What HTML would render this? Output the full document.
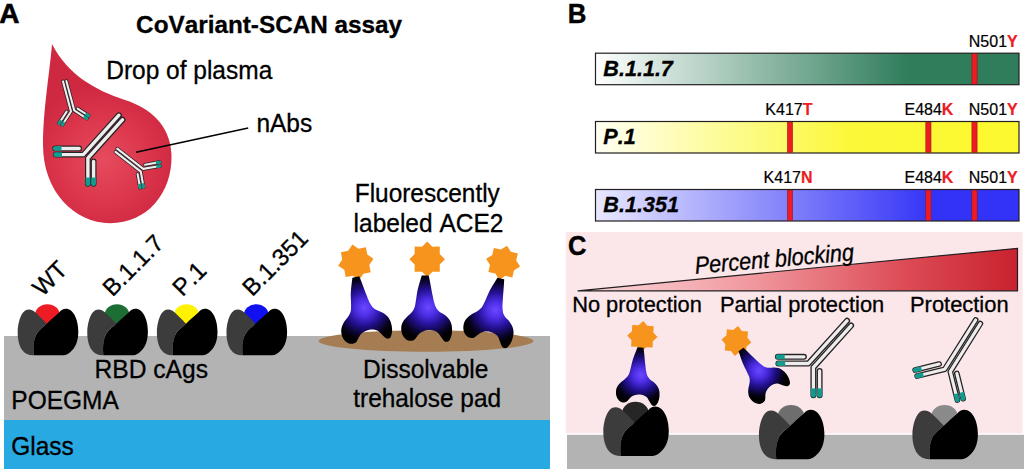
<!DOCTYPE html>
<html><head><meta charset="utf-8"><style>
html,body{margin:0;padding:0;background:#fff;width:1024px;height:469px;overflow:hidden}
svg{display:block}
text{font-family:"Liberation Sans", sans-serif;font-kerning:none;font-feature-settings:"kern" 0}
</style></head><body>
<svg width="1024" height="469" viewBox="0 0 1024 469">
<defs>
<radialGradient id="gDrop" gradientUnits="userSpaceOnUse" cx="103" cy="160" r="75">
<stop offset="0" stop-color="#e64b5e"/><stop offset="0.55" stop-color="#dc374d"/><stop offset="1" stop-color="#cf2841"/></radialGradient>
<radialGradient id="gAce" gradientUnits="userSpaceOnUse" cx="2" cy="32" r="33">
<stop offset="0" stop-color="#6a48ff"/><stop offset="0.25" stop-color="#4e2ee6"/><stop offset="0.55" stop-color="#22108f"/><stop offset="0.85" stop-color="#07031f"/><stop offset="1" stop-color="#000"/></radialGradient>
<linearGradient id="gGreen" x1="0" x2="1"><stop offset="0" stop-color="#ffffff"/><stop offset="0.74" stop-color="#2f7d5b"/><stop offset="1" stop-color="#2f7d5b"/></linearGradient>
<linearGradient id="gYellow" x1="0" x2="1"><stop offset="0" stop-color="#fffff4"/><stop offset="0.6" stop-color="#fbf83a"/><stop offset="1" stop-color="#fcf92e"/></linearGradient>
<linearGradient id="gBlue" x1="0" x2="1"><stop offset="0" stop-color="#e8e8ff"/><stop offset="0.8" stop-color="#3333f7"/><stop offset="1" stop-color="#3333f7"/></linearGradient>
<linearGradient id="gTri" gradientUnits="userSpaceOnUse" x1="578" x2="1018" y1="0" y2="0"><stop offset="0" stop-color="#fbdcde"/><stop offset="0.4" stop-color="#f0979d"/><stop offset="0.75" stop-color="#dc4a55"/><stop offset="1" stop-color="#c8222d"/></linearGradient>
</defs>
<text x="0" y="0" transform="translate(-0.8 22.7) scale(1 1.0)" font-size="28" font-weight="bold" font-style="normal" text-anchor="start" fill="#000" stroke="#000" stroke-width="0.6" >A</text>
<text x="0" y="0" transform="translate(136.1 33.2) scale(1 1.0)" font-size="24.3" font-weight="bold" font-style="normal" text-anchor="start" fill="#000" stroke="#000" stroke-width="0.3" >CoVariant-SCAN assay</text>
<path d="M52,44 C50,70 43,110 43,145 C43,192 75,223.2 110,223.2 C148,223.2 172.5,192 171.5,155 C170.5,125 150,108 125,100 C95,90 68,75 52,44 Z" fill="url(#gDrop)"/>
<text x="0" y="0" transform="translate(106.2 78.6) scale(1 1.02)" font-size="24.5" font-weight="normal" font-style="normal" text-anchor="start" fill="#000" stroke="#000" stroke-width="0.3" >Drop of plasma</text>
<text x="0" y="0" transform="translate(256.4 132.3) scale(1 1.02)" font-size="24.5" font-weight="normal" font-style="normal" text-anchor="start" fill="#000" stroke="#000" stroke-width="0.3" >nAbs</text>
<line x1="136" y1="152.3" x2="248.2" y2="127.9" stroke="#000" stroke-width="1.5"/>
<g transform="translate(83.3,154.6) rotate(0) scale(0.92,0.92)" fill="none" stroke-linejoin="round">
<polyline points="-30.5,-6.7 -4.5,-6.7" stroke="#262324" stroke-width="6.3" stroke-linecap="round"/>
<polyline points="-30.5,-6.7 -4.5,-6.7" stroke="#ededed" stroke-width="3.7" stroke-linecap="round"/>
<polyline points="-30,0 0,0 38.7,-42.8" stroke="#262324" stroke-width="6.3" stroke-linecap="round"/>
<polyline points="-30,0 0,0 38.7,-42.8" stroke="#ededed" stroke-width="3.7" stroke-linecap="round"/>
<polyline points="42.7,-37.95 5,3.9 5,31.7" stroke="#262324" stroke-width="6.3" stroke-linecap="round"/>
<polyline points="42.7,-37.95 5,3.9 5,31.7" stroke="#ededed" stroke-width="3.7" stroke-linecap="round"/>
<polyline points="11.2,7.4 11.2,31.7" stroke="#262324" stroke-width="6.3" stroke-linecap="round"/>
<polyline points="11.2,7.4 11.2,31.7" stroke="#ededed" stroke-width="3.7" stroke-linecap="round"/>
<polyline points="-30.5,-6.7 -23.7,-6.7" stroke="#129c8f" stroke-width="5.00" stroke-linecap="butt"/>
<circle cx="-30.5" cy="-6.7" r="2.50" fill="#129c8f" stroke="none"/>
<polyline points="-30,0 -23.2,0.0" stroke="#129c8f" stroke-width="5.00" stroke-linecap="butt"/>
<circle cx="-30" cy="0" r="2.50" fill="#129c8f" stroke="none"/>
<polyline points="5,31.7 5.0,24.9" stroke="#129c8f" stroke-width="5.00" stroke-linecap="butt"/>
<circle cx="5" cy="31.7" r="2.50" fill="#129c8f" stroke="none"/>
<polyline points="11.2,31.7 11.2,24.9" stroke="#129c8f" stroke-width="5.00" stroke-linecap="butt"/>
<circle cx="11.2" cy="31.7" r="2.50" fill="#129c8f" stroke="none"/>
</g>
<g transform="translate(71.0,111.5) rotate(-57) scale(0.54,0.54)" fill="none" stroke-linejoin="round">
<polyline points="-30.5,-6.7 -4.5,-6.7" stroke="#262324" stroke-width="6.6" stroke-linecap="round"/>
<polyline points="-30.5,-6.7 -4.5,-6.7" stroke="#ededed" stroke-width="3.8" stroke-linecap="round"/>
<polyline points="-30,0 0,0 38.7,-42.8" stroke="#262324" stroke-width="6.6" stroke-linecap="round"/>
<polyline points="-30,0 0,0 38.7,-42.8" stroke="#ededed" stroke-width="3.8" stroke-linecap="round"/>
<polyline points="42.7,-37.95 5,3.9 5,31.7" stroke="#262324" stroke-width="6.6" stroke-linecap="round"/>
<polyline points="42.7,-37.95 5,3.9 5,31.7" stroke="#ededed" stroke-width="3.8" stroke-linecap="round"/>
<polyline points="11.2,7.4 11.2,31.7" stroke="#262324" stroke-width="6.6" stroke-linecap="round"/>
<polyline points="11.2,7.4 11.2,31.7" stroke="#ededed" stroke-width="3.8" stroke-linecap="round"/>
<polyline points="-30.5,-6.7 -23.7,-6.7" stroke="#129c8f" stroke-width="5.20" stroke-linecap="butt"/>
<circle cx="-30.5" cy="-6.7" r="2.60" fill="#129c8f" stroke="none"/>
<polyline points="-30,0 -23.2,0.0" stroke="#129c8f" stroke-width="5.20" stroke-linecap="butt"/>
<circle cx="-30" cy="0" r="2.60" fill="#129c8f" stroke="none"/>
<polyline points="5,31.7 5.0,24.9" stroke="#129c8f" stroke-width="5.20" stroke-linecap="butt"/>
<circle cx="5" cy="31.7" r="2.60" fill="#129c8f" stroke="none"/>
<polyline points="11.2,31.7 11.2,24.9" stroke="#129c8f" stroke-width="5.20" stroke-linecap="butt"/>
<circle cx="11.2" cy="31.7" r="2.60" fill="#129c8f" stroke="none"/>
</g>
<g transform="translate(143.2,168.9) rotate(-10) scale(-0.57,0.57)" fill="none" stroke-linejoin="round">
<polyline points="-30.5,-6.7 -4.5,-6.7" stroke="#262324" stroke-width="6.4" stroke-linecap="round"/>
<polyline points="-30.5,-6.7 -4.5,-6.7" stroke="#ededed" stroke-width="3.7" stroke-linecap="round"/>
<polyline points="-30,0 0,0 38.7,-42.8" stroke="#262324" stroke-width="6.4" stroke-linecap="round"/>
<polyline points="-30,0 0,0 38.7,-42.8" stroke="#ededed" stroke-width="3.7" stroke-linecap="round"/>
<polyline points="42.7,-37.95 5,3.9 5,31.7" stroke="#262324" stroke-width="6.4" stroke-linecap="round"/>
<polyline points="42.7,-37.95 5,3.9 5,31.7" stroke="#ededed" stroke-width="3.7" stroke-linecap="round"/>
<polyline points="11.2,7.4 11.2,31.7" stroke="#262324" stroke-width="6.4" stroke-linecap="round"/>
<polyline points="11.2,7.4 11.2,31.7" stroke="#ededed" stroke-width="3.7" stroke-linecap="round"/>
<polyline points="-30.5,-6.7 -23.7,-6.7" stroke="#129c8f" stroke-width="5.05" stroke-linecap="butt"/>
<circle cx="-30.5" cy="-6.7" r="2.53" fill="#129c8f" stroke="none"/>
<polyline points="-30,0 -23.2,0.0" stroke="#129c8f" stroke-width="5.05" stroke-linecap="butt"/>
<circle cx="-30" cy="0" r="2.53" fill="#129c8f" stroke="none"/>
<polyline points="5,31.7 5.0,24.9" stroke="#129c8f" stroke-width="5.05" stroke-linecap="butt"/>
<circle cx="5" cy="31.7" r="2.53" fill="#129c8f" stroke="none"/>
<polyline points="11.2,31.7 11.2,24.9" stroke="#129c8f" stroke-width="5.05" stroke-linecap="butt"/>
<circle cx="11.2" cy="31.7" r="2.53" fill="#129c8f" stroke="none"/>
</g>
<rect x="4" y="336" width="546" height="84" fill="#b3b3b3"/>
<rect x="4" y="420" width="546" height="49" fill="#29a9e1"/>
<ellipse cx="426" cy="341" rx="107.5" ry="10.7" fill="#a67c52"/>
<g transform="translate(17.2,304.2) scale(1.0,1.018)">
<ellipse cx="30.2" cy="10.2" rx="12.2" ry="10.2" fill="#ed1c24"/>
<path d="M 16.6,50.2 C 12,50.5 8,49 5,45 C 1.5,40 0.3,33 0.5,26.7 C 0.8,18 4,5.1 11.6,5.1 C 14.5,5.1 17,6.5 18.4,8.2 C 22,11.5 26,15.5 29.6,19.3 C 24,24 20,27 18.4,31.6 C 16.5,36 15.8,42 16.6,50.2 Z" fill="#3c3c3c"/>
<path d="M 29.6,19.3 C 33.5,15.5 38,11.5 41.9,8.2 C 43.5,6 46,4.5 48.7,4.5 C 56,4.5 61.1,15 61.1,26.7 C 61.1,35 59,41 54.9,45.2 C 52,48.5 49,50.2 46.2,50.2 L 16.6,50.2 C 15.8,42 16.5,36 18.4,31.6 C 20,27 24,24 29.6,19.3 Z" fill="#000"/>
</g>
<g transform="translate(86.8,304.2) scale(1.0,1.018)">
<ellipse cx="30.2" cy="10.2" rx="12.2" ry="10.2" fill="#1c6e35"/>
<path d="M 16.6,50.2 C 12,50.5 8,49 5,45 C 1.5,40 0.3,33 0.5,26.7 C 0.8,18 4,5.1 11.6,5.1 C 14.5,5.1 17,6.5 18.4,8.2 C 22,11.5 26,15.5 29.6,19.3 C 24,24 20,27 18.4,31.6 C 16.5,36 15.8,42 16.6,50.2 Z" fill="#3c3c3c"/>
<path d="M 29.6,19.3 C 33.5,15.5 38,11.5 41.9,8.2 C 43.5,6 46,4.5 48.7,4.5 C 56,4.5 61.1,15 61.1,26.7 C 61.1,35 59,41 54.9,45.2 C 52,48.5 49,50.2 46.2,50.2 L 16.6,50.2 C 15.8,42 16.5,36 18.4,31.6 C 20,27 24,24 29.6,19.3 Z" fill="#000"/>
</g>
<g transform="translate(156.39999999999998,304.2) scale(1.0,1.018)">
<ellipse cx="30.2" cy="10.2" rx="12.2" ry="10.2" fill="#fff200"/>
<path d="M 16.6,50.2 C 12,50.5 8,49 5,45 C 1.5,40 0.3,33 0.5,26.7 C 0.8,18 4,5.1 11.6,5.1 C 14.5,5.1 17,6.5 18.4,8.2 C 22,11.5 26,15.5 29.6,19.3 C 24,24 20,27 18.4,31.6 C 16.5,36 15.8,42 16.6,50.2 Z" fill="#3c3c3c"/>
<path d="M 29.6,19.3 C 33.5,15.5 38,11.5 41.9,8.2 C 43.5,6 46,4.5 48.7,4.5 C 56,4.5 61.1,15 61.1,26.7 C 61.1,35 59,41 54.9,45.2 C 52,48.5 49,50.2 46.2,50.2 L 16.6,50.2 C 15.8,42 16.5,36 18.4,31.6 C 20,27 24,24 29.6,19.3 Z" fill="#000"/>
</g>
<g transform="translate(225.99999999999997,304.2) scale(1.0,1.018)">
<ellipse cx="30.2" cy="10.2" rx="12.2" ry="10.2" fill="#1010f0"/>
<path d="M 16.6,50.2 C 12,50.5 8,49 5,45 C 1.5,40 0.3,33 0.5,26.7 C 0.8,18 4,5.1 11.6,5.1 C 14.5,5.1 17,6.5 18.4,8.2 C 22,11.5 26,15.5 29.6,19.3 C 24,24 20,27 18.4,31.6 C 16.5,36 15.8,42 16.6,50.2 Z" fill="#3c3c3c"/>
<path d="M 29.6,19.3 C 33.5,15.5 38,11.5 41.9,8.2 C 43.5,6 46,4.5 48.7,4.5 C 56,4.5 61.1,15 61.1,26.7 C 61.1,35 59,41 54.9,45.2 C 52,48.5 49,50.2 46.2,50.2 L 16.6,50.2 C 15.8,42 16.5,36 18.4,31.6 C 20,27 24,24 29.6,19.3 Z" fill="#000"/>
</g>
<text x="0" y="0" transform="translate(42.5 297.5) rotate(-45) scale(1 1.02)" font-size="24" font-weight="normal" font-style="normal" text-anchor="start" fill="#000" stroke="#000" stroke-width="0.3" >WT</text>
<text x="0" y="0" transform="translate(112.5 297.5) rotate(-45) scale(1 1.02)" font-size="23.5" font-weight="normal" font-style="normal" text-anchor="start" fill="#000" stroke="#000" stroke-width="0.3" >B.1.1.7</text>
<text x="0" y="0" transform="translate(182.5 297.5) rotate(-45) scale(1 1.02)" font-size="24" font-weight="normal" font-style="normal" text-anchor="start" fill="#000" stroke="#000" stroke-width="0.3" >P.1</text>
<text x="0" y="0" transform="translate(252.2 297.2) rotate(-45) scale(1 1.02)" font-size="23.5" font-weight="normal" font-style="normal" text-anchor="start" fill="#000" stroke="#000" stroke-width="0.3" >B.1.351</text>
<text x="0" y="0" transform="translate(94.6 378.3) scale(1 1.02)" font-size="24.6" font-weight="normal" font-style="normal" text-anchor="start" fill="#000" stroke="#000" stroke-width="0.3" >RBD cAgs</text>
<text x="0" y="0" transform="translate(11.3 408.9) scale(1 1.02)" font-size="24.5" font-weight="normal" font-style="normal" text-anchor="start" fill="#000" stroke="#000" stroke-width="0.3" >POEGMA</text>
<text x="0" y="0" transform="translate(11.2 454.6) scale(1 1.02)" font-size="24.5" font-weight="normal" font-style="normal" text-anchor="start" fill="#000" stroke="#000" stroke-width="0.3" >Glass</text>
<text x="0" y="0" transform="translate(354.8 202.3) scale(1 1.02)" font-size="24.4" font-weight="normal" font-style="normal" text-anchor="start" fill="#000" stroke="#000" stroke-width="0.3" >Fluorescently</text>
<text x="0" y="0" transform="translate(353.6 231.6) scale(1 1.02)" font-size="24.5" font-weight="normal" font-style="normal" text-anchor="start" fill="#000" stroke="#000" stroke-width="0.3" >labeled ACE2</text>
<text x="0" y="0" transform="translate(363.1 377.6) scale(1 1.02)" font-size="24.5" font-weight="normal" font-style="normal" text-anchor="start" fill="#000" stroke="#000" stroke-width="0.3" >Dissolvable</text>
<text x="0" y="0" transform="translate(353.3 406.5) scale(1 1.02)" font-size="24.4" font-weight="normal" font-style="normal" text-anchor="start" fill="#000" stroke="#000" stroke-width="0.3" >trehalose pad</text>
<polygon points="352.37,244.53 358.55,248.68 365.87,247.28 367.31,254.58 373.47,258.77 369.32,264.95 370.72,272.27 363.42,273.71 359.23,279.87 353.05,275.72 345.73,277.12 344.29,269.82 338.13,265.63 342.28,259.45 340.88,252.13 348.18,250.69" fill="#f7941d"/>
<path transform="translate(355.8,276.9) rotate(-12)" d="M -3.5,0 L 3.5,0 C 5,8 6,16 6.7,20 C 7.5,26 8.5,30 10,33 C 12,36 14,37.5 16,38.5 C 20,41 24,45 24.8,51 C 25.5,57 24.5,62 22,65.5 C 20.5,67.5 18,67.5 16.5,66 C 14.5,63.5 13,61 11,58 C 9,55.5 5,54.5 2,54.5 C -2,54.5 -6,56 -8,58 C -10,60 -11,62 -13,63.8 C -15,65.2 -19,65.2 -21.5,63 C -25,60 -26,56 -25.8,52 C -25.5,46 -21,41.5 -17,38.5 C -14,36 -12,33 -11.4,30.7 C -10.5,27 -9.8,23 -9.3,20 C -8,12 -5,5 -3.5,0 Z" fill="url(#gAce)"/>
<polygon points="427.20,241.40 432.40,246.64 439.79,246.61 439.76,254.00 445.00,259.20 439.76,264.40 439.79,271.79 432.40,271.76 427.20,277.00 422.00,271.76 414.61,271.79 414.64,264.40 409.40,259.20 414.64,254.00 414.61,246.61 422.00,246.64" fill="#f7941d"/>
<path transform="translate(425.2,275.5) rotate(-2)" d="M -3.5,0 L 3.5,0 C 5,8 6,16 6.7,20 C 7.5,26 8.5,30 10,33 C 12,36 14,37.5 16,38.5 C 20,41 24,45 24.8,51 C 25.5,57 24.5,62 22,65.5 C 20.5,67.5 18,67.5 16.5,66 C 14.5,63.5 13,61 11,58 C 9,55.5 5,54.5 2,54.5 C -2,54.5 -6,56 -8,58 C -10,60 -11,62 -13,63.8 C -15,65.2 -19,65.2 -21.5,63 C -25,60 -26,56 -25.8,52 C -25.5,46 -21,41.5 -17,38.5 C -14,36 -12,33 -11.4,30.7 C -10.5,27 -9.8,23 -9.3,20 C -8,12 -5,5 -3.5,0 Z" fill="url(#gAce)"/>
<polygon points="507.01,245.75 510.82,251.87 517.86,253.48 516.22,260.50 520.05,266.61 513.93,270.42 512.32,277.46 505.30,275.82 499.19,279.65 495.38,273.53 488.34,271.92 489.98,264.90 486.15,258.79 492.27,254.98 493.88,247.94 500.90,249.58" fill="#f7941d"/>
<path transform="translate(500.8,278.5) rotate(13)" d="M -3.5,0 L 3.5,0 C 5,8 6,16 6.7,20 C 7.5,26 8.5,30 10,33 C 12,36 14,37.5 16,38.5 C 20,41 24,45 24.8,51 C 25.5,57 24.5,62 22,65.5 C 20.5,67.5 18,67.5 16.5,66 C 14.5,63.5 13,61 11,58 C 9,55.5 5,54.5 2,54.5 C -2,54.5 -6,56 -8,58 C -10,60 -11,62 -13,63.8 C -15,65.2 -19,65.2 -21.5,63 C -25,60 -26,56 -25.8,52 C -25.5,46 -21,41.5 -17,38.5 C -14,36 -12,33 -11.4,30.7 C -10.5,27 -9.8,23 -9.3,20 C -8,12 -5,5 -3.5,0 Z" fill="url(#gAce)"/>
<text x="0" y="0" font-size="27.5" font-weight="bold" font-style="normal" text-anchor="start" fill="#000" stroke="#000" stroke-width="0.4" transform="translate(567.8 23.1) scale(0.94 1)">B</text>
<rect x="595.5" y="53.2" width="423.5" height="31.5" fill="url(#gGreen)" stroke="#231f20" stroke-width="1.2"/>
<rect x="971.9" y="53.800000000000004" width="5.2" height="30.3" fill="#ed1c24" stroke="#8a1010" stroke-width="0.5"/>
<text x="0" y="0" transform="translate(603.3 75.7) scale(1 1.02)" font-size="21.6" font-weight="bold" font-style="italic" text-anchor="start" fill="#000" stroke="#000" stroke-width="0.3" >B.1.1.7</text>
<rect x="595.5" y="121.5" width="423.5" height="31.5" fill="url(#gYellow)" stroke="#231f20" stroke-width="1.2"/>
<rect x="787.4" y="122.1" width="5.2" height="30.3" fill="#ed1c24" stroke="#8a1010" stroke-width="0.5"/>
<rect x="925.8" y="122.1" width="5.2" height="30.3" fill="#ed1c24" stroke="#8a1010" stroke-width="0.5"/>
<rect x="971.9" y="122.1" width="5.2" height="30.3" fill="#ed1c24" stroke="#8a1010" stroke-width="0.5"/>
<text x="0" y="0" transform="translate(603.3 144.0) scale(1 1.02)" font-size="21.6" font-weight="bold" font-style="italic" text-anchor="start" fill="#000" stroke="#000" stroke-width="0.3" >P.1</text>
<rect x="595.5" y="189.5" width="423.5" height="31.5" fill="url(#gBlue)" stroke="#231f20" stroke-width="1.2"/>
<rect x="787.4" y="190.1" width="5.2" height="30.3" fill="#ed1c24" stroke="#8a1010" stroke-width="0.5"/>
<rect x="925.8" y="190.1" width="5.2" height="30.3" fill="#ed1c24" stroke="#8a1010" stroke-width="0.5"/>
<rect x="971.9" y="190.1" width="5.2" height="30.3" fill="#ed1c24" stroke="#8a1010" stroke-width="0.5"/>
<text x="0" y="0" transform="translate(603.3 212.0) scale(1 1.02)" font-size="21.6" font-weight="bold" font-style="italic" text-anchor="start" fill="#000" stroke="#000" stroke-width="0.3" >B.1.351</text>
<text x="0" y="0" transform="translate(1017.7 46.8) scale(1 1.04)" font-size="16" text-anchor="end" stroke="#000" stroke-width="0.2">N501<tspan fill="#ed1c24" stroke="#ed1c24" font-weight="bold">Y</tspan></text>
<text x="0" y="0" transform="translate(812.5 115.4) scale(1 1.04)" font-size="16" text-anchor="end" stroke="#000" stroke-width="0.2">K417<tspan fill="#ed1c24" stroke="#ed1c24" font-weight="bold">T</tspan></text>
<text x="0" y="0" transform="translate(953.4 115.4) scale(1 1.04)" font-size="16" text-anchor="end" stroke="#000" stroke-width="0.2">E484<tspan fill="#ed1c24" stroke="#ed1c24" font-weight="bold">K</tspan></text>
<text x="0" y="0" transform="translate(1017.7 115.4) scale(1 1.04)" font-size="16" text-anchor="end" stroke="#000" stroke-width="0.2">N501<tspan fill="#ed1c24" stroke="#ed1c24" font-weight="bold">Y</tspan></text>
<text x="0" y="0" transform="translate(812.5 183.4) scale(1 1.04)" font-size="16" text-anchor="end" stroke="#000" stroke-width="0.2">K417<tspan fill="#ed1c24" stroke="#ed1c24" font-weight="bold">N</tspan></text>
<text x="0" y="0" transform="translate(953.4 183.4) scale(1 1.04)" font-size="16" text-anchor="end" stroke="#000" stroke-width="0.2">E484<tspan fill="#ed1c24" stroke="#ed1c24" font-weight="bold">K</tspan></text>
<text x="0" y="0" transform="translate(1017.7 183.4) scale(1 1.04)" font-size="16" text-anchor="end" stroke="#000" stroke-width="0.2">N501<tspan fill="#ed1c24" stroke="#ed1c24" font-weight="bold">Y</tspan></text>
<rect x="565.8" y="232" width="456.8" height="201.2" fill="#fbe7e9"/>
<rect x="567" y="434.8" width="457" height="35" fill="#b3b3b3"/>
<text x="0" y="0" font-size="27.5" font-weight="bold" font-style="normal" text-anchor="start" fill="#000" stroke="#000" stroke-width="0.4" transform="translate(567.9 255.3) scale(0.93 1)">C</text>
<polygon points="577.6,290.8 1017.5,248.3 1017.5,290.8" fill="url(#gTri)" stroke="#231f20" stroke-width="1.2"/>
<text x="0" y="0" font-size="21.6" font-weight="normal" font-style="italic" text-anchor="start" fill="#000" stroke="#000" stroke-width="0.3" transform="translate(695.5 273.8) rotate(-4.9) scale(1 1.12)">Percent blocking</text>
<text x="0" y="0" transform="translate(572.2 311.6) scale(1 1.02)" font-size="21.8" font-weight="normal" font-style="normal" text-anchor="start" fill="#000" stroke="#000" stroke-width="0.3" >No protection</text>
<text x="0" y="0" transform="translate(720.0 312.0) scale(1 1.02)" font-size="21.9" font-weight="normal" font-style="normal" text-anchor="start" fill="#000" stroke="#000" stroke-width="0.3" >Partial protection</text>
<text x="0" y="0" transform="translate(910.0 311.9) scale(1 1.02)" font-size="21.9" font-weight="normal" font-style="normal" text-anchor="start" fill="#000" stroke="#000" stroke-width="0.3" >Protection</text>
<polygon points="643.20,321.12 647.39,325.83 653.70,326.13 653.33,332.43 657.58,337.10 652.87,341.29 652.57,347.60 646.27,347.23 641.60,351.48 637.41,346.77 631.10,346.47 631.47,340.17 627.22,335.50 631.93,331.31 632.23,325.00 638.53,325.37" fill="#f7941d"/>
<path transform="translate(640.5,347.5) rotate(3) scale(0.86)" d="M -3.5,0 L 3.5,0 C 5,8 6,16 6.7,20 C 7.5,26 8.5,30 10,33 C 12,36 14,37.5 16,38.5 C 20,41 24,45 24.8,51 C 25.5,57 24.5,62 22,65.5 C 20.5,67.5 18,67.5 16.5,66 C 14.5,63.5 13,61 11,58 C 9,55.5 5,54.5 2,54.5 C -2,54.5 -6,56 -8,58 C -10,60 -11,62 -13,63.8 C -15,65.2 -19,65.2 -21.5,63 C -25,60 -26,56 -25.8,52 C -25.5,46 -21,41.5 -17,38.5 C -14,36 -12,33 -11.4,30.7 C -10.5,27 -9.8,23 -9.3,20 C -8,12 -5,5 -3.5,0 Z" fill="url(#gAce)"/>
<g transform="translate(602.8,401.7) scale(1.08,1.08)">
<ellipse cx="30.2" cy="10.2" rx="12.2" ry="10.2" fill="#262626"/>
<path d="M 16.6,50.2 C 12,50.5 8,49 5,45 C 1.5,40 0.3,33 0.5,26.7 C 0.8,18 4,5.1 11.6,5.1 C 14.5,5.1 17,6.5 18.4,8.2 C 22,11.5 26,15.5 29.6,19.3 C 24,24 20,27 18.4,31.6 C 16.5,36 15.8,42 16.6,50.2 Z" fill="#3c3c3c"/>
<path d="M 29.6,19.3 C 33.5,15.5 38,11.5 41.9,8.2 C 43.5,6 46,4.5 48.7,4.5 C 56,4.5 61.1,15 61.1,26.7 C 61.1,35 59,41 54.9,45.2 C 52,48.5 49,50.2 46.2,50.2 L 16.6,50.2 C 15.8,42 16.5,36 18.4,31.6 C 20,27 24,24 29.6,19.3 Z" fill="#000"/>
</g>
<polygon points="737.97,326.08 741.89,330.89 748.06,331.56 747.43,337.73 751.32,342.57 746.51,346.49 745.84,352.66 739.67,352.03 734.83,355.92 730.91,351.11 724.74,350.44 725.37,344.27 721.48,339.43 726.29,335.51 726.96,329.34 733.13,329.97" fill="#f7941d"/>
<path transform="translate(741,349.5) rotate(-37) scale(0.86)" d="M -3.5,0 L 3.5,0 C 5,8 6,16 6.7,20 C 7.5,26 8.5,30 10,33 C 12,36 14,37.5 16,38.5 C 20,41 24,45 24.8,51 C 25.5,57 24.5,62 22,65.5 C 20.5,67.5 18,67.5 16.5,66 C 14.5,63.5 13,61 11,58 C 9,55.5 5,54.5 2,54.5 C -2,54.5 -6,56 -8,58 C -10,60 -11,62 -13,63.8 C -15,65.2 -19,65.2 -21.5,63 C -25,60 -26,56 -25.8,52 C -25.5,46 -21,41.5 -17,38.5 C -14,36 -12,33 -11.4,30.7 C -10.5,27 -9.8,23 -9.3,20 C -8,12 -5,5 -3.5,0 Z" fill="url(#gAce)"/>
<g transform="translate(758.4,405) scale(1.08,1.08)">
<ellipse cx="30.2" cy="10.2" rx="12.2" ry="10.2" fill="#6e6e6e"/>
<path d="M 16.6,50.2 C 12,50.5 8,49 5,45 C 1.5,40 0.3,33 0.5,26.7 C 0.8,18 4,5.1 11.6,5.1 C 14.5,5.1 17,6.5 18.4,8.2 C 22,11.5 26,15.5 29.6,19.3 C 24,24 20,27 18.4,31.6 C 16.5,36 15.8,42 16.6,50.2 Z" fill="#3c3c3c"/>
<path d="M 29.6,19.3 C 33.5,15.5 38,11.5 41.9,8.2 C 43.5,6 46,4.5 48.7,4.5 C 56,4.5 61.1,15 61.1,26.7 C 61.1,35 59,41 54.9,45.2 C 52,48.5 49,50.2 46.2,50.2 L 16.6,50.2 C 15.8,42 16.5,36 18.4,31.6 C 20,27 24,24 29.6,19.3 Z" fill="#000"/>
</g>
<g transform="translate(808.4,363.5) rotate(0) scale(1.0,1.0)" fill="none" stroke-linejoin="round">
<polyline points="-30.5,-6.7 -4.5,-6.7" stroke="#262324" stroke-width="6.0" stroke-linecap="round"/>
<polyline points="-30.5,-6.7 -4.5,-6.7" stroke="#ededed" stroke-width="3.3" stroke-linecap="round"/>
<polyline points="-30,0 0,0 38.7,-42.8" stroke="#262324" stroke-width="6.0" stroke-linecap="round"/>
<polyline points="-30,0 0,0 38.7,-42.8" stroke="#ededed" stroke-width="3.3" stroke-linecap="round"/>
<polyline points="42.7,-37.95 5,3.9 5,31.7" stroke="#262324" stroke-width="6.0" stroke-linecap="round"/>
<polyline points="42.7,-37.95 5,3.9 5,31.7" stroke="#ededed" stroke-width="3.3" stroke-linecap="round"/>
<polyline points="11.2,7.4 11.2,31.7" stroke="#262324" stroke-width="6.0" stroke-linecap="round"/>
<polyline points="11.2,7.4 11.2,31.7" stroke="#ededed" stroke-width="3.3" stroke-linecap="round"/>
<polyline points="-30.5,-6.7 -23.7,-6.7" stroke="#129c8f" stroke-width="4.65" stroke-linecap="butt"/>
<circle cx="-30.5" cy="-6.7" r="2.33" fill="#129c8f" stroke="none"/>
<polyline points="-30,0 -23.2,0.0" stroke="#129c8f" stroke-width="4.65" stroke-linecap="butt"/>
<circle cx="-30" cy="0" r="2.33" fill="#129c8f" stroke="none"/>
<polyline points="5,31.7 5.0,24.9" stroke="#129c8f" stroke-width="4.65" stroke-linecap="butt"/>
<circle cx="5" cy="31.7" r="2.33" fill="#129c8f" stroke="none"/>
<polyline points="11.2,31.7 11.2,24.9" stroke="#129c8f" stroke-width="4.65" stroke-linecap="butt"/>
<circle cx="11.2" cy="31.7" r="2.33" fill="#129c8f" stroke="none"/>
</g>
<g transform="translate(911.9,405) scale(1.08,1.08)">
<ellipse cx="30.2" cy="10.2" rx="12.2" ry="10.2" fill="#8a8a8a"/>
<path d="M 16.6,50.2 C 12,50.5 8,49 5,45 C 1.5,40 0.3,33 0.5,26.7 C 0.8,18 4,5.1 11.6,5.1 C 14.5,5.1 17,6.5 18.4,8.2 C 22,11.5 26,15.5 29.6,19.3 C 24,24 20,27 18.4,31.6 C 16.5,36 15.8,42 16.6,50.2 Z" fill="#3c3c3c"/>
<path d="M 29.6,19.3 C 33.5,15.5 38,11.5 41.9,8.2 C 43.5,6 46,4.5 48.7,4.5 C 56,4.5 61.1,15 61.1,26.7 C 61.1,35 59,41 54.9,45.2 C 52,48.5 49,50.2 46.2,50.2 L 16.6,50.2 C 15.8,42 16.5,36 18.4,31.6 C 20,27 24,24 29.6,19.3 Z" fill="#000"/>
</g>
<g transform="translate(944.8,369.2) rotate(-14) scale(0.95,0.95)" fill="none" stroke-linejoin="round">
<polyline points="-30.5,-6.7 -4.5,-6.7" stroke="#262324" stroke-width="6.0" stroke-linecap="round"/>
<polyline points="-30.5,-6.7 -4.5,-6.7" stroke="#ededed" stroke-width="3.3" stroke-linecap="round"/>
<polyline points="-30,0 0,0 44.09,-42.4" stroke="#262324" stroke-width="6.0" stroke-linecap="round"/>
<polyline points="-30,0 0,0 44.09,-42.4" stroke="#ededed" stroke-width="3.3" stroke-linecap="round"/>
<polyline points="47.96,-37.57 5,3.9 5,34.7" stroke="#262324" stroke-width="6.0" stroke-linecap="round"/>
<polyline points="47.96,-37.57 5,3.9 5,34.7" stroke="#ededed" stroke-width="3.3" stroke-linecap="round"/>
<polyline points="11.2,7.4 11.2,34.7" stroke="#262324" stroke-width="6.0" stroke-linecap="round"/>
<polyline points="11.2,7.4 11.2,34.7" stroke="#ededed" stroke-width="3.3" stroke-linecap="round"/>
<polyline points="-30.5,-6.7 -23.7,-6.7" stroke="#129c8f" stroke-width="4.65" stroke-linecap="butt"/>
<circle cx="-30.5" cy="-6.7" r="2.33" fill="#129c8f" stroke="none"/>
<polyline points="-30,0 -23.2,0.0" stroke="#129c8f" stroke-width="4.65" stroke-linecap="butt"/>
<circle cx="-30" cy="0" r="2.33" fill="#129c8f" stroke="none"/>
<polyline points="5,34.7 5.0,27.900000000000002" stroke="#129c8f" stroke-width="4.65" stroke-linecap="butt"/>
<circle cx="5" cy="34.7" r="2.33" fill="#129c8f" stroke="none"/>
<polyline points="11.2,34.7 11.2,27.900000000000002" stroke="#129c8f" stroke-width="4.65" stroke-linecap="butt"/>
<circle cx="11.2" cy="34.7" r="2.33" fill="#129c8f" stroke="none"/>
</g>
</svg>
</body></html>
